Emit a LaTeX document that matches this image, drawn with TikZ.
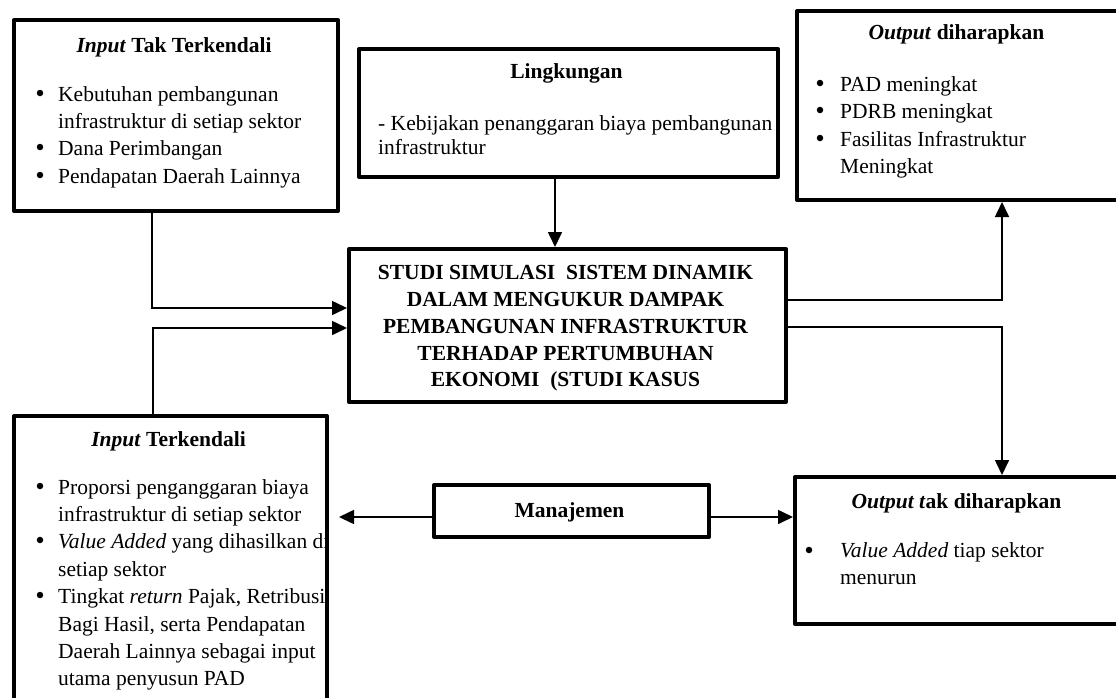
\documentclass[tikz,border=0pt]{standalone}
\usepackage{fontspec}
\setmainfont{Liberation Serif}
\usetikzlibrary{arrows.meta}
\newcommand\bodyfont{\fontsize{21.5}{27}\selectfont}

\begin{document}
\begin{tikzpicture}[x=1pt,y=-1pt,
  frame/.style={draw=black, line width=4pt, line join=round, rectangle,
                inner sep=0pt, anchor=north west},
  txt/.style={anchor=base west, inner sep=0pt, font=\bodyfont},
  ctxt/.style={anchor=base, inner sep=0pt, font=\bodyfont\bfseries},
  bulletdot/.style={circle, fill=black, inner sep=0pt, minimum size=6.5pt},
  conn/.style={line width=1.6pt, -{Triangle[length=15pt,width=14pt]}}]

\useasboundingbox (0,0) rectangle (1116,697);
\clip (0,0) rectangle (1116,697);

% ---------- boxes ----------
\node[frame, minimum width=324pt, minimum height=191pt] (unc)  at (12,18)  {};
\node[frame, minimum width=419pt, minimum height=128pt] (env)  at (357,47) {};
\node[frame, minimum width=325pt, minimum height=189pt] (good) at (795,9)  {};
\node[frame, minimum width=437pt, minimum height=153pt] (core) at (347,247) {};
\node[frame, minimum width=313pt, minimum height=300pt] (ctl)  at (12,414) {};
\node[frame, minimum width=275pt, minimum height=52pt]  (mgmt) at (432,483) {};
\node[frame, minimum width=327pt, minimum height=147pt] (bad)  at (793,475) {};

% ---------- uncontrolled input ----------
\node[ctxt] (unc-h) at (174,52) {\textit{Input} Tak Terkendali};
\node[bulletdot] (unc-b1) at (40,93) {};
\node[txt] (unc-1a) at (58,101) {Kebutuhan pembangunan};
\node[txt] (unc-1b) at (58,128) {infrastruktur di setiap sektor};
\node[bulletdot] (unc-b2) at (40,147) {};
\node[txt] (unc-2)  at (58,155) {Dana Perimbangan};
\node[bulletdot] (unc-b3) at (40,175) {};
\node[txt] (unc-3)  at (58,183) {Pendapatan Daerah Lainnya};

% ---------- environment ----------
\node[ctxt] (env-h) at (566.5,78) {Lingkungan};
\node[txt] (env-1) at (378,130) {- Kebijakan penanggaran biaya pembangunan};
\node[txt] (env-2) at (378,154) {infrastruktur};

% ---------- desired output ----------
\node[ctxt] (good-h) at (956.5,39) {\textit{Output} diharapkan};
\node[bulletdot] (good-b1) at (820,83)  {};
\node[txt] (good-1)  at (840,91)  {PAD meningkat};
\node[bulletdot] (good-b2) at (820,110) {};
\node[txt] (good-2)  at (840,118) {PDRB meningkat};
\node[bulletdot] (good-b3) at (820,138) {};
\node[txt] (good-3a) at (840,146) {Fasilitas Infrastruktur};
\node[txt] (good-3b) at (840,173) {Meningkat};

% ---------- system ----------
\node[ctxt] (core-1) at (565.5,279) {STUDI SIMULASI\ \ SISTEM DINAMIK};
\node[ctxt] (core-2) at (565.5,306) {DALAM MENGUKUR DAMPAK};
\node[ctxt] (core-3) at (565.5,333) {PEMBANGUNAN INFRASTRUKTUR};
\node[ctxt] (core-4) at (565.5,360) {TERHADAP PERTUMBUHAN};
\node[ctxt] (core-5) at (565.5,386) {EKONOMI\ \ (STUDI KASUS};

% ---------- controlled input (text cut at the frame) ----------
\node[ctxt] (ctl-h) at (168.5,446) {\textit{Input} Terkendali};
\begin{scope}
  \clip (12,414) rectangle (325,714);
  \node[bulletdot] (ctl-b1) at (40,486) {};
  \node[txt] (ctl-1a) at (58,494) {Proporsi penganggaran biaya};
  \node[txt] (ctl-1b) at (58,521) {infrastruktur di setiap sektor};
  \node[bulletdot] (ctl-b2) at (40,540) {};
  \node[txt] (ctl-2a) at (58,548) {\textit{Value Added} yang dihasilkan di};
  \node[txt] (ctl-2b) at (58,576) {setiap sektor};
  \node[bulletdot] (ctl-b3) at (40,595) {};
  \node[txt] (ctl-3a) at (58,603) {Tingkat \textit{return} Pajak, Retribusi,};
  \node[txt] (ctl-3b) at (58,631) {Bagi Hasil, serta Pendapatan};
  \node[txt] (ctl-3c) at (58,658) {Daerah Lainnya sebagai input};
  \node[txt] (ctl-3d) at (58,685) {utama penyusun PAD};
\end{scope}

% ---------- management ----------
\node[ctxt] (mgmt-t) at (569.5,517) {Manajemen};

% ---------- undesired output ----------
\node[ctxt] (bad-h) at (956.5,508) {\textit{Output t}ak diharapkan};
\node[bulletdot] (bad-b1) at (809,550) {};
\node[txt] (bad-1a) at (840,557) {\textit{Value Added} tiap sektor};
\node[txt] (bad-1b) at (840,584) {menurun};

% ---------- connectors ----------
\coordinate (k1) at (152,308);
\coordinate (k2) at (153,328);
\coordinate (k3) at (555,0);
\coordinate (k4) at (1002,300);
\coordinate (k5) at (1002,327);
\coordinate (k6) at (0,517);

\draw[conn] (unc.south -| k1) |- (core.west |- k1);
\draw[conn] (ctl.north -| k2) |- (core.west |- k2);
\draw[conn] (env.south -| k3) -- (core.north -| k3);
\draw[conn] (core.east |- k4) -| (good.south -| k4);
\draw[conn] (core.east |- k5) -| (bad.north -| k5);
\draw[conn, shorten >=10pt] (mgmt.west |- k6) -- (ctl.east |- k6);
\draw[conn] (mgmt.east |- k6) -- (bad.west |- k6);

\end{tikzpicture}
\end{document}
